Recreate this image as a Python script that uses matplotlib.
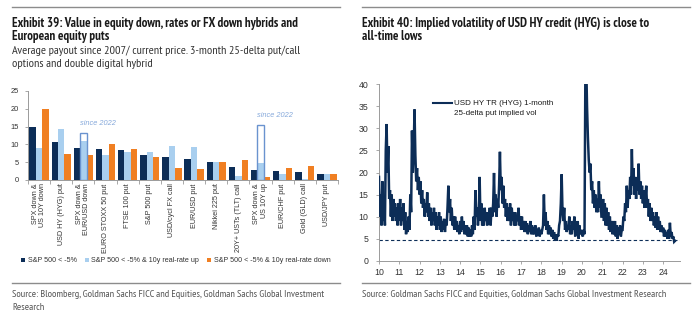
import numpy as np
import matplotlib
matplotlib.use("Agg")
import matplotlib.pyplot as plt
from matplotlib import font_manager

SANS = ['Liberation Sans', 'DejaVu Sans']
plt.rcParams['font.family'] = SANS

# condensed face for titles and notes, first one installed
_installed = {f.name for f in font_manager.fontManager.ttflist}
_narrow = [n for n in ['Liberation Sans Narrow', 'Arial Narrow', 'PT Sans Narrow',
                       'Archivo Narrow', 'Roboto Condensed', 'Open Sans Condensed']
           if n in _installed]
NARROW = _narrow[:1] + SANS

# ---------------- Exhibit 39 data ----------------
categories = ["SPX down &\nUS 10Y down", "USD HY (HYG) put", "SPX down &\nEUR/USD down",
              "EURO STOXX 50 put", "FTSE 100 put", "S&P 500 put", "USD/cycl FX call",
              "EUR/USD put", "Nikkei 225 put", "20Y+ USTs (TLT) call", "SPX down &\nUS 10Y up",
              "EUR/CHF put", "Gold (GLD) call", "USD/JPY put"]
spx_down = [14.8, 10.6, 9.0, 8.6, 8.4, 7.1, 6.4, 6.0, 5.1, 3.6, 2.8, 2.6, 2.2, 1.6]
spx_down_rates_up = [9.0, 14.3, 11.0, 6.9, 7.8, 7.8, 9.6, 9.2, 5.1, 1.1, 4.9, 1.6, 0.3, 1.6]
spx_down_rates_down = [20.0, 7.2, 7.0, 10.0, 8.7, 6.4, 3.5, 3.2, 5.1, 5.7, 0.9, 3.4, 4.0, 1.7]
series_names = ["S&P 500 < -5%", "S&P 500 < -5% & 10y real-rate up",
                "S&P 500 < -5% & 10y real-rate down"]
since_2022_idx = [2, 10]
since_2022_val = [13.3, 15.5]

# ---------------- Exhibit 40 data (semi-monthly, from Jan 2010) ----------------
hyg_put_vol = [
    # 2010
    19, 10, 15, 8, 18, 9, 13, 8, 25, 31, 20, 26, 14, 16, 10, 15, 9, 14, 10, 13, 9, 12, 8, 13,
    # 2011
    9, 14, 8, 12, 9, 13, 7, 11, 6, 9, 6.5, 10, 7, 15, 11, 29.5, 20, 25, 34.3, 24, 18, 21, 16, 19,
    # 2012
    15, 18, 13, 16, 12, 14, 10, 13, 11, 15.5, 10, 13, 9, 12, 8, 11, 9, 12, 8, 11, 7, 10, 8, 11,
    # 2013
    7, 10, 6.5, 9, 7, 9.5, 6.5, 9, 8, 12, 17, 11, 14, 9, 12, 8, 10, 7, 10, 7, 9, 6.5, 8, 6,
    # 2014
    9, 6.5, 10, 7, 9, 6, 8, 6, 8, 5.5, 7.5, 5.5, 7, 5.5, 8, 6, 10, 7, 16, 10, 12, 8, 11, 19,
    # 2015
    9, 13, 8, 11, 8, 12, 9, 11, 8, 10, 9, 12, 8, 12, 10, 13, 19.9, 11, 15, 10, 14, 12, 17, 24.7,
    # 2016
    16, 19, 13, 17, 12, 14, 10, 13, 9, 12, 9, 13, 8, 12, 9, 11, 8, 11, 8, 10, 9, 12, 8, 10,
    # 2017
    7, 10, 7, 9, 6.5, 9, 6.5, 8.5, 6, 8, 6.5, 9, 6, 8, 6, 7.5, 6, 8, 5.5, 7, 6, 7.5, 5.5, 7,
    # 2018
    6, 7, 8, 15, 8, 11, 7, 9, 6, 8, 6, 7.5, 5.5, 7, 5, 6.5, 4.8, 6, 4.5, 6, 5.5, 8, 9, 13,
    # 2019
    19.6, 11, 9, 12, 7, 9, 6.5, 8, 7, 10, 6, 8, 6, 9, 7, 10, 5.5, 8, 6, 9, 5, 8, 6, 7,
    # 2020
    6, 5.5, 7, 6, 42, 45, 35, 28, 23, 20, 22, 16, 18, 13, 16, 12, 15, 11, 14, 11, 18, 12, 15, 10,
    # 2021
    10, 14, 9, 13, 8, 12, 8, 11, 7, 10, 6.5, 9, 6, 9, 6, 9, 5.5, 8, 5, 7.5, 6, 8, 5.5, 7,
    # 2022
    7, 10, 9, 13, 11, 17, 12, 16, 14, 19, 15, 25.3, 17, 21, 15, 19, 14, 18, 16, 22, 15, 18, 14, 17,
    # 2023
    13, 16, 12, 14, 17, 12, 14, 10, 13, 9, 12, 9, 11, 8, 10, 7.5, 11, 7, 10, 7, 9, 6.5, 8, 6.5,
    # 2024
    7.5, 5.5, 7, 5.5, 6.5, 5, 7, 5, 8.6, 5.5, 6.5, 5, 5.5, 4.3, 4.5,
]
current_level = 4.8
year_ticks = list(range(10, 25))

NAVY = "#0c2d57"
LIGHT = "#a9cfef"
ORANGE = "#f07f22"
OUTLINE = "#6a93cf"
GREY_TXT = "#333333"
SPINE = "#9a9a9a"

W, H = 697, 323
fig = plt.figure(figsize=(W / 100, H / 100), dpi=100)


def fx(px):
    return px / W


def fy(py):
    return 1 - py / H


def rule(x0, x1, y):
    fig.add_artist(plt.Line2D([fx(x0), fx(x1)], [fy(y), fy(y)], color="#8c8c8c", lw=1.0,
                              transform=fig.transFigure))


def ftext(x, y, s, **kw):
    fig.text(fx(x), fy(y), s, va="baseline", ha="left", **kw)


# header / footer rules and texts
for x0, x1 in [(12, 340), (362, 690)]:
    rule(x0, x1, 7)
    rule(x0, x1, 283)

title_kw = dict(family=NARROW, fontsize=9.3, fontweight="bold", color="#1a1a1a")
ftext(12, 26.7, "Exhibit 39: Value in equity down, rates or FX down hybrids and", **title_kw)
ftext(12, 40.2, "European equity puts", **title_kw)
sub_kw = dict(family=NARROW, fontsize=8.7, color="#333333")
ftext(12, 53.8, "Average payout since 2007/ current price. 3-month 25-delta put/call", **sub_kw)
ftext(12, 66.8, "options and double digital hybrid", **sub_kw)
ftext(362, 26.7, "Exhibit 40: Implied volatility of USD HY credit (HYG) is close to", **title_kw)
ftext(362, 40.2, "all-time lows", **title_kw)

src_kw = dict(family=NARROW, fontsize=7.4, color="#555555")
ftext(12, 297, "Source: Bloomberg, Goldman Sachs FICC and Equities, Goldman Sachs Global Investment",
      **src_kw)
ftext(12, 310, "Research", **src_kw)
ftext(362, 297, "Source: Goldman Sachs FICC and Equities, Goldman Sachs Global Investment Research",
      **src_kw)

# ---------------- Exhibit 39: grouped bars ----------------
ax1 = fig.add_axes([fx(28), fy(180), 310 / W, 89 / H])
x = np.arange(len(categories))
w = 0.29
b1 = ax1.bar(x - w, spx_down, w, color=NAVY, zorder=2)
b2 = ax1.bar(x, spx_down_rates_up, w, color=LIGHT, zorder=2)
b3 = ax1.bar(x + w, spx_down_rates_down, w, color=ORANGE, zorder=2)
ax1.bar(since_2022_idx, since_2022_val, w, facecolor="none", edgecolor=OUTLINE, lw=1.0, zorder=3)
for i, v in zip(since_2022_idx, since_2022_val):
    ax1.text(i - w / 2, v + 1.7, "since 2022", ha="left", va="bottom", fontsize=5.3,
             style="italic", color="#86a9db")

ax1.set_xlim(-0.5, len(categories) - 0.5)
ax1.set_ylim(0, 25)
ax1.set_yticks(range(0, 26, 5))
ax1.set_xticks(x)
ax1.set_xticklabels(categories, rotation=90, fontsize=5.2, color=GREY_TXT, linespacing=1.05)
for t in ax1.get_xticklabels():
    t.set_multialignment("right")
ax1.set_xticks(np.arange(-0.5, len(categories), 1.0), minor=True)
ax1.tick_params(axis="x", which="major", length=0, pad=2.5)
ax1.tick_params(axis="x", which="minor", length=3, color=SPINE, width=0.6)
ax1.tick_params(axis="y", length=2.5, color=SPINE, width=0.6, labelsize=5.4,
                labelcolor=GREY_TXT, pad=4)
for s in ["top", "right"]:
    ax1.spines[s].set_visible(False)
for s in ["left", "bottom"]:
    ax1.spines[s].set_color(SPINE)
    ax1.spines[s].set_linewidth(0.7)

leg1 = fig.legend([b1, b2, b3], series_names, loc="center left",
                  bbox_to_anchor=(fx(21), fy(261)), ncol=3, frameon=False, fontsize=5.1,
                  handlelength=0.6, handleheight=0.6, handletextpad=0.35,
                  columnspacing=1.1, borderpad=0, borderaxespad=0)
for t in leg1.get_texts():
    t.set_color(GREY_TXT)

# ---------------- Exhibit 40: line ----------------
ax2 = fig.add_axes([fx(379), fy(260.7), 301 / W, 176.4 / H])
t_years = 10 + np.arange(len(hyg_put_vol)) / 24.0
ax2.plot(t_years, hyg_put_vol, color=NAVY, lw=1.8, solid_joinstyle="miter", zorder=3)
ax2.axhline(current_level, color=NAVY, lw=0.8, ls=(0, (3, 2.2)), zorder=2)
ax2.set_xlim(10, 24.83)
ax2.set_ylim(0, 40)
ax2.set_yticks(range(0, 41, 5))
ax2.set_xticks(year_ticks)
ax2.set_xticklabels([str(y) for y in year_ticks])
ax2.tick_params(length=2.5, color=SPINE, width=0.6, labelsize=6.3, labelcolor=GREY_TXT)
ax2.tick_params(axis="y", pad=5)
ax2.tick_params(axis="x", pad=3)
for s in ["top", "right"]:
    ax2.spines[s].set_visible(False)
for s in ["left", "bottom"]:
    ax2.spines[s].set_color(SPINE)
    ax2.spines[s].set_linewidth(0.7)

ax2.plot([0.179, 0.243], [0.896, 0.896], color=NAVY, lw=1.5, transform=ax2.transAxes)
ax2.text(0.25, 0.883, "USD HY TR (HYG) 1-month", transform=ax2.transAxes, fontsize=5.8,
         color="#1a1a1a", va="baseline")
ax2.text(0.25, 0.826, "25-delta put implied vol", transform=ax2.transAxes, fontsize=5.8,
         color="#1a1a1a", va="baseline")

fig.savefig("out.png", dpi=100)
